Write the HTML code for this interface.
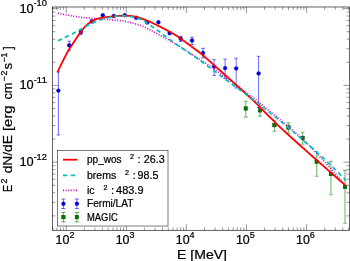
<!DOCTYPE html>
<html><head><meta charset="utf-8"><title>chart</title>
<style>html,body{margin:0;padding:0;background:#fff;}svg{display:block;will-change:transform;font-family:"Liberation Sans",sans-serif;fill:#000;}text{font-family:"Liberation Sans",sans-serif;stroke:#000;stroke-width:0.22px;}</style></head>
<body>
<svg width="350" height="261" viewBox="0 0 350 261">
<rect width="350" height="261" fill="#fff"/>
<path d="M245.80 101.20V117.10M243.90 101.20h3.80M243.90 117.10h3.80" stroke="#008000" stroke-width="1.10" fill="none" opacity="0.55"/>
<path d="M260.00 105.20V116.10M258.10 105.20h3.80M258.10 116.10h3.80" stroke="#008000" stroke-width="1.10" fill="none" opacity="0.55"/>
<path d="M274.40 120.20V131.30M272.50 120.20h3.80M272.50 131.30h3.80" stroke="#008000" stroke-width="1.10" fill="none" opacity="0.55"/>
<path d="M288.50 122.90V133.30M286.60 122.90h3.80M286.60 133.30h3.80" stroke="#008000" stroke-width="1.10" fill="none" opacity="0.55"/>
<path d="M302.70 132.30V144.30M300.80 132.30h3.80M300.80 144.30h3.80" stroke="#008000" stroke-width="1.10" fill="none" opacity="0.55"/>
<path d="M316.70 151.80V176.20M314.80 151.80h3.80M314.80 176.20h3.80" stroke="#008000" stroke-width="1.10" fill="none" opacity="0.55"/>
<path d="M330.90 161.30V194.70M329.00 161.30h3.80M329.00 194.70h3.80" stroke="#008000" stroke-width="1.10" fill="none" opacity="0.55"/>
<path d="M345.00 170.40V223.30M343.10 170.40h3.80M343.10 223.30h3.80" stroke="#008000" stroke-width="1.10" fill="none" opacity="0.55"/>
<path d="M58.40 71.90V135.00M56.65 71.90h3.50M56.65 135.00h3.50" stroke="#0000ff" stroke-width="0.65" fill="none" opacity="0.90"/>
<path d="M69.20 41.20V50.40M67.45 41.20h3.50M67.45 50.40h3.50" stroke="#0000ff" stroke-width="0.65" fill="none" opacity="0.90"/>
<path d="M80.90 29.40V34.60M79.15 29.40h3.50M79.15 34.60h3.50" stroke="#0000ff" stroke-width="0.65" fill="none" opacity="0.90"/>
<path d="M91.80 20.00V22.80M90.05 20.00h3.50M90.05 22.80h3.50" stroke="#0000ff" stroke-width="0.65" fill="none" opacity="0.90"/>
<path d="M169.60 31.60V34.60M167.85 31.60h3.50M167.85 34.60h3.50" stroke="#0000ff" stroke-width="0.65" fill="none" opacity="0.90"/>
<path d="M180.70 36.30V41.40M178.95 36.30h3.50M178.95 41.40h3.50" stroke="#0000ff" stroke-width="0.65" fill="none" opacity="0.90"/>
<path d="M192.00 37.20V44.50M190.25 37.20h3.50M190.25 44.50h3.50" stroke="#0000ff" stroke-width="0.65" fill="none" opacity="0.90"/>
<path d="M203.00 48.30V57.90M201.25 48.30h3.50M201.25 57.90h3.50" stroke="#0000ff" stroke-width="0.65" fill="none" opacity="0.90"/>
<path d="M214.10 59.70V75.40M212.35 59.70h3.50M212.35 75.40h3.50" stroke="#0000ff" stroke-width="0.65" fill="none" opacity="0.90"/>
<path d="M225.10 59.10V78.60M223.35 59.10h3.50M223.35 78.60h3.50" stroke="#0000ff" stroke-width="0.65" fill="none" opacity="0.90"/>
<path d="M236.20 58.20V88.00M234.45 58.20h3.50M234.45 88.00h3.50" stroke="#0000ff" stroke-width="0.65" fill="none" opacity="0.90"/>
<path d="M258.60 56.30V107.50M256.85 56.30h3.50M256.85 107.50h3.50" stroke="#0000ff" stroke-width="0.65" fill="none" opacity="0.90"/>
<rect x="244.00" y="106.70" width="3.6" height="3.6" fill="#007a00" stroke="#003800" stroke-width="0.4"/>
<rect x="258.20" y="108.50" width="3.6" height="3.6" fill="#007a00" stroke="#003800" stroke-width="0.4"/>
<rect x="272.60" y="123.30" width="3.6" height="3.6" fill="#007a00" stroke="#003800" stroke-width="0.4"/>
<rect x="286.70" y="125.70" width="3.6" height="3.6" fill="#007a00" stroke="#003800" stroke-width="0.4"/>
<rect x="300.90" y="136.10" width="3.6" height="3.6" fill="#007a00" stroke="#003800" stroke-width="0.4"/>
<rect x="314.90" y="159.90" width="3.6" height="3.6" fill="#007a00" stroke="#003800" stroke-width="0.4"/>
<rect x="329.10" y="172.20" width="3.6" height="3.6" fill="#007a00" stroke="#003800" stroke-width="0.4"/>
<rect x="343.20" y="185.20" width="3.6" height="3.6" fill="#007a00" stroke="#003800" stroke-width="0.4"/>
<circle cx="58.40" cy="90.60" r="1.95" fill="#0000f0" stroke="#000070" stroke-width="0.3"/>
<circle cx="69.20" cy="45.30" r="1.95" fill="#0000f0" stroke="#000070" stroke-width="0.3"/>
<circle cx="80.90" cy="32.00" r="1.95" fill="#0000f0" stroke="#000070" stroke-width="0.3"/>
<circle cx="91.80" cy="21.40" r="1.95" fill="#0000f0" stroke="#000070" stroke-width="0.3"/>
<circle cx="102.80" cy="15.20" r="1.95" fill="#0000f0" stroke="#000070" stroke-width="0.3"/>
<circle cx="113.80" cy="16.00" r="1.95" fill="#0000f0" stroke="#000070" stroke-width="0.3"/>
<circle cx="124.80" cy="15.20" r="1.95" fill="#0000f0" stroke="#000070" stroke-width="0.3"/>
<circle cx="136.20" cy="17.80" r="1.95" fill="#0000f0" stroke="#000070" stroke-width="0.3"/>
<circle cx="147.30" cy="22.60" r="1.95" fill="#0000f0" stroke="#000070" stroke-width="0.3"/>
<circle cx="158.40" cy="22.20" r="1.95" fill="#0000f0" stroke="#000070" stroke-width="0.3"/>
<circle cx="169.60" cy="33.10" r="1.95" fill="#0000f0" stroke="#000070" stroke-width="0.3"/>
<circle cx="180.70" cy="38.70" r="1.95" fill="#0000f0" stroke="#000070" stroke-width="0.3"/>
<circle cx="192.00" cy="40.50" r="1.95" fill="#0000f0" stroke="#000070" stroke-width="0.3"/>
<circle cx="203.00" cy="53.00" r="1.95" fill="#0000f0" stroke="#000070" stroke-width="0.3"/>
<circle cx="214.10" cy="66.60" r="1.95" fill="#0000f0" stroke="#000070" stroke-width="0.3"/>
<circle cx="225.10" cy="68.10" r="1.95" fill="#0000f0" stroke="#000070" stroke-width="0.3"/>
<circle cx="236.20" cy="68.40" r="1.95" fill="#0000f0" stroke="#000070" stroke-width="0.3"/>
<circle cx="258.60" cy="73.40" r="1.95" fill="#0000f0" stroke="#000070" stroke-width="0.3"/>
<g fill="none" stroke-linejoin="round">
<polyline points="58.00,13.20 58.66,13.33 59.31,13.47 59.96,13.60 60.60,13.73 61.25,13.86 61.89,13.99 62.55,14.13 63.21,14.26 63.88,14.39 64.57,14.53 65.27,14.66 66.00,14.80 66.75,14.94 67.53,15.08 68.34,15.23 69.16,15.38 69.99,15.53 70.83,15.68 71.67,15.82 72.51,15.97 73.33,16.11 74.14,16.24 74.94,16.38 75.70,16.50 76.43,16.62 77.11,16.73 77.77,16.84 78.41,16.94 79.04,17.05 79.67,17.14 80.31,17.24 80.97,17.33 81.66,17.43 82.38,17.52 83.16,17.61 84.00,17.70 84.90,17.79 85.85,17.88 86.85,17.97 87.88,18.05 88.94,18.14 90.02,18.22 91.13,18.30 92.23,18.38 93.34,18.46 94.44,18.54 95.53,18.62 96.60,18.70 97.66,18.78 98.71,18.85 99.77,18.93 100.83,19.00 101.89,19.07 102.95,19.14 104.01,19.21 105.07,19.28 106.13,19.36 107.19,19.43 108.24,19.51 109.30,19.60 110.37,19.69 111.47,19.78 112.58,19.87 113.71,19.97 114.83,20.07 115.94,20.17 117.04,20.27 118.10,20.37 119.13,20.48 120.11,20.58 121.04,20.69 121.90,20.80 122.68,20.90 123.37,21.00 123.99,21.10 124.56,21.19 125.10,21.29 125.61,21.39 126.11,21.49 126.63,21.61 127.17,21.73 127.75,21.87 128.39,22.03 129.10,22.20 129.89,22.39 130.73,22.60 131.63,22.82 132.56,23.05 133.51,23.30 134.48,23.55 135.46,23.81 136.42,24.08 137.37,24.36 138.29,24.64 139.17,24.92 140.00,25.20 140.80,25.49 141.58,25.80 142.35,26.13 143.11,26.46 143.85,26.80 144.56,27.14 145.26,27.48 145.93,27.81 146.57,28.14 147.18,28.44 147.76,28.73 148.30,29.00 148.77,29.23 149.15,29.42 149.46,29.57 149.72,29.71 149.95,29.83 150.18,29.96 150.42,30.09 150.69,30.25 151.03,30.44 151.44,30.67 151.96,30.95 152.60,31.30 153.37,31.72 154.25,32.19 155.23,32.72 156.29,33.29 157.40,33.89 158.55,34.52 159.72,35.16 160.90,35.80 162.07,36.43 163.20,37.05 164.28,37.64 165.30,38.20 166.27,38.73 167.23,39.26 168.18,39.78 169.11,40.30 170.03,40.80 170.94,41.31 171.83,41.80 172.70,42.29 173.55,42.78 174.39,43.26 175.21,43.73 176.00,44.20 176.75,44.65 177.44,45.08 178.10,45.49 178.71,45.88 179.32,46.27 179.91,46.66 180.52,47.06 181.14,47.47 181.80,47.91 182.50,48.37 183.27,48.86 184.10,49.40 185.00,49.98 185.96,50.58 186.96,51.22 188.01,51.88 189.08,52.56 190.19,53.26 191.31,53.97 192.45,54.69 193.59,55.42 194.74,56.15 195.87,56.88 197.00,57.60 198.12,58.32 199.26,59.05 200.40,59.79 201.55,60.53 202.71,61.27 203.88,62.03 205.04,62.78 206.21,63.55 207.39,64.33 208.56,65.11 209.73,65.90 210.90,66.70 212.07,67.51 213.23,68.33 214.40,69.16 215.57,70.00 216.74,70.84 217.91,71.69 219.08,72.55 220.26,73.41 221.44,74.28 222.62,75.15 223.81,76.03 225.00,76.90 226.23,77.80 227.51,78.74 228.82,79.71 230.16,80.70 231.50,81.69 232.82,82.67 234.12,83.63 235.37,84.56 236.56,85.44 237.68,86.27 238.69,87.03 239.60,87.70 240.37,88.27 240.99,88.74 241.50,89.12 241.93,89.44 242.29,89.71 242.61,89.96 242.93,90.20 243.26,90.46 243.64,90.75 244.09,91.09 244.63,91.50 245.30,92.00 246.09,92.59 246.98,93.25 247.95,93.97 248.98,94.74 250.06,95.53 251.16,96.35 252.26,97.18 253.36,98.00 254.43,98.80 255.46,99.58 256.42,100.32 257.30,101.00 258.09,101.63 258.80,102.20 259.46,102.74 260.07,103.25 260.65,103.74 261.22,104.23 261.79,104.73 262.39,105.24 263.02,105.78 263.71,106.37 264.46,107.00 265.30,107.70 266.22,108.46 267.22,109.28 268.27,110.13 269.36,111.03 270.50,111.95 271.66,112.90 272.83,113.86 274.01,114.83 275.19,115.79 276.36,116.75 277.50,117.69 278.60,118.60 279.68,119.50 280.76,120.40 281.84,121.30 282.91,122.20 283.98,123.09 285.05,123.99 286.11,124.88 287.16,125.77 288.21,126.66 289.25,127.54 290.28,128.42 291.30,129.30 292.32,130.18 293.36,131.08 294.41,131.99 295.45,132.90 296.48,133.80 297.51,134.70 298.51,135.58 299.49,136.45 300.43,137.29 301.33,138.10 302.19,138.87 303.00,139.60 303.74,140.27 304.41,140.88 305.01,141.44 305.57,141.96 306.10,142.45 306.61,142.94 307.12,143.42 307.63,143.92 308.16,144.44 308.72,145.01 309.33,145.62 310.00,146.30 310.72,147.04 311.46,147.81 312.24,148.62 313.03,149.46 313.84,150.32 314.68,151.21 315.52,152.11 316.38,153.03 317.25,153.97 318.13,154.91 319.01,155.85 319.90,156.80 320.80,157.75 321.71,158.72 322.64,159.71 323.59,160.70 324.54,161.71 325.51,162.73 326.47,163.76 327.44,164.80 328.41,165.84 329.38,166.89 330.35,167.94 331.30,169.00 332.28,170.10 333.31,171.27 334.37,172.48 335.45,173.73 336.53,174.98 337.59,176.21 338.62,177.41 339.60,178.56 340.52,179.64 341.35,180.61 342.08,181.47 342.70,182.20 343.19,182.78 343.57,183.22 343.84,183.56 344.04,183.80 344.17,183.97 344.24,184.07 344.29,184.15 344.32,184.20 344.35,184.25 344.39,184.32 344.47,184.43 344.60,184.60" stroke="#bf00bf" stroke-width="1.7" stroke-dasharray="0.95 1.65"/>
<polyline points="57.70,71.80 57.73,71.73 57.74,71.71 57.73,71.71 57.72,71.73 57.71,71.75 57.71,71.75 57.72,71.73 57.74,71.66 57.80,71.54 57.89,71.35 58.02,71.07 58.20,70.70 58.43,70.21 58.72,69.61 59.06,68.91 59.43,68.14 59.83,67.32 60.24,66.46 60.67,65.58 61.09,64.70 61.51,63.84 61.90,63.03 62.27,62.28 62.60,61.60 62.90,60.99 63.18,60.42 63.44,59.88 63.69,59.37 63.93,58.88 64.16,58.41 64.39,57.94 64.62,57.49 64.85,57.03 65.09,56.56 65.34,56.09 65.60,55.60 65.86,55.11 66.11,54.64 66.36,54.18 66.60,53.73 66.85,53.27 67.11,52.81 67.37,52.34 67.65,51.85 67.95,51.34 68.27,50.80 68.62,50.22 69.00,49.60 69.42,48.93 69.88,48.19 70.38,47.41 70.90,46.60 71.45,45.76 72.00,44.91 72.56,44.06 73.11,43.22 73.65,42.40 74.16,41.62 74.65,40.88 75.10,40.20 75.52,39.56 75.93,38.95 76.32,38.36 76.70,37.79 77.07,37.25 77.42,36.73 77.77,36.22 78.10,35.74 78.41,35.28 78.72,34.83 79.02,34.41 79.30,34.00 79.56,33.62 79.80,33.28 80.01,32.98 80.21,32.70 80.40,32.44 80.57,32.19 80.75,31.95 80.93,31.71 81.12,31.46 81.33,31.20 81.55,30.91 81.80,30.60 82.07,30.26 82.35,29.91 82.63,29.54 82.93,29.16 83.24,28.78 83.55,28.39 83.87,28.00 84.20,27.60 84.54,27.22 84.89,26.83 85.24,26.46 85.60,26.10 85.97,25.75 86.34,25.39 86.72,25.04 87.11,24.70 87.50,24.35 87.91,24.01 88.32,23.68 88.74,23.35 89.16,23.03 89.60,22.71 90.05,22.40 90.50,22.10 90.97,21.80 91.44,21.51 91.93,21.22 92.43,20.94 92.94,20.66 93.46,20.39 93.98,20.13 94.50,19.87 95.03,19.63 95.55,19.41 96.08,19.20 96.60,19.00 97.12,18.82 97.65,18.66 98.18,18.52 98.71,18.39 99.25,18.27 99.79,18.16 100.33,18.05 100.86,17.96 101.40,17.87 101.94,17.78 102.47,17.69 103.00,17.60 103.53,17.51 104.05,17.43 104.57,17.36 105.09,17.29 105.61,17.22 106.13,17.16 106.65,17.10 107.17,17.04 107.70,16.98 108.23,16.92 108.76,16.86 109.30,16.80 109.84,16.74 110.39,16.67 110.94,16.61 111.49,16.55 112.05,16.49 112.61,16.43 113.17,16.37 113.73,16.31 114.29,16.25 114.86,16.20 115.43,16.15 116.00,16.10 116.57,16.05 117.15,16.01 117.73,15.96 118.31,15.92 118.90,15.88 119.48,15.84 120.07,15.81 120.66,15.78 121.24,15.75 121.83,15.73 122.42,15.71 123.00,15.70 123.59,15.69 124.18,15.69 124.77,15.69 125.36,15.69 125.96,15.70 126.55,15.71 127.14,15.73 127.73,15.75 128.31,15.78 128.88,15.81 129.44,15.85 130.00,15.90 130.55,15.95 131.08,16.01 131.62,16.07 132.14,16.14 132.66,16.22 133.18,16.30 133.69,16.39 134.19,16.48 134.70,16.57 135.20,16.68 135.70,16.79 136.20,16.90 136.70,17.02 137.18,17.15 137.67,17.28 138.14,17.42 138.62,17.56 139.09,17.71 139.57,17.87 140.04,18.03 140.52,18.19 141.01,18.36 141.50,18.53 142.00,18.70 142.49,18.87 142.96,19.03 143.42,19.19 143.87,19.34 144.33,19.51 144.80,19.67 145.29,19.86 145.80,20.06 146.35,20.27 146.95,20.52 147.59,20.79 148.30,21.10 149.08,21.45 149.95,21.84 150.89,22.28 151.87,22.74 152.90,23.22 153.94,23.71 154.98,24.21 156.01,24.71 157.02,25.19 157.98,25.66 158.88,26.10 159.70,26.50 160.45,26.87 161.13,27.21 161.77,27.53 162.37,27.84 162.95,28.13 163.50,28.42 164.05,28.71 164.59,29.00 165.15,29.30 165.73,29.61 166.35,29.94 167.00,30.30 167.69,30.68 168.41,31.07 169.15,31.47 169.91,31.88 170.68,32.30 171.45,32.73 172.23,33.17 173.00,33.61 173.77,34.05 174.53,34.50 175.28,34.95 176.00,35.40 176.70,35.85 177.39,36.31 178.07,36.76 178.74,37.23 179.40,37.69 180.06,38.16 180.71,38.64 181.37,39.12 182.04,39.60 182.71,40.10 183.40,40.60 184.10,41.10 184.81,41.61 185.52,42.12 186.24,42.63 186.96,43.15 187.68,43.68 188.41,44.21 189.15,44.74 189.90,45.29 190.66,45.85 191.43,46.42 192.21,47.00 193.00,47.60 193.80,48.20 194.61,48.81 195.42,49.42 196.24,50.03 197.07,50.66 197.91,51.30 198.77,51.96 199.64,52.63 200.52,53.33 201.43,54.06 202.35,54.81 203.30,55.60 204.30,56.45 205.36,57.36 206.46,58.33 207.60,59.34 208.76,60.38 209.92,61.42 211.06,62.45 212.17,63.46 213.24,64.42 214.24,65.33 215.17,66.16 216.00,66.90 216.73,67.55 217.36,68.11 217.92,68.60 218.42,69.04 218.87,69.44 219.29,69.81 219.70,70.16 220.10,70.51 220.52,70.88 220.96,71.28 221.45,71.71 222.00,72.20 222.59,72.73 223.20,73.27 223.82,73.83 224.46,74.41 225.11,74.99 225.78,75.59 226.45,76.20 227.14,76.83 227.84,77.46 228.55,78.10 229.27,78.74 230.00,79.40 230.74,80.07 231.51,80.75 232.29,81.45 233.09,82.16 233.89,82.88 234.71,83.61 235.53,84.34 236.35,85.07 237.17,85.81 237.99,86.54 238.80,87.28 239.60,88.00 240.40,88.73 241.22,89.47 242.05,90.23 242.88,90.99 243.71,91.74 244.53,92.50 245.35,93.25 246.14,93.98 246.92,94.70 247.68,95.39 248.41,96.06 249.10,96.70 249.75,97.29 250.35,97.84 250.91,98.34 251.44,98.82 251.95,99.28 252.45,99.74 252.95,100.20 253.46,100.67 253.99,101.16 254.55,101.69 255.15,102.27 255.80,102.90 256.50,103.60 257.25,104.35 258.04,105.15 258.86,105.99 259.70,106.85 260.55,107.72 261.40,108.60 262.24,109.47 263.06,110.31 263.85,111.12 264.60,111.89 265.30,112.60 265.96,113.26 266.58,113.88 267.17,114.47 267.74,115.03 268.30,115.57 268.83,116.09 269.36,116.61 269.88,117.11 270.40,117.62 270.92,118.14 271.45,118.66 272.00,119.20 272.53,119.73 273.04,120.24 273.51,120.73 273.98,121.21 274.45,121.69 274.93,122.18 275.42,122.69 275.95,123.22 276.52,123.79 277.15,124.40 277.84,125.07 278.60,125.80 279.45,126.60 280.38,127.47 281.38,128.40 282.43,129.38 283.53,130.39 284.66,131.43 285.80,132.48 286.94,133.53 288.08,134.57 289.19,135.58 290.27,136.56 291.30,137.50 292.29,138.39 293.25,139.26 294.19,140.11 295.12,140.94 296.04,141.76 296.95,142.57 297.86,143.39 298.78,144.20 299.71,145.03 300.65,145.87 301.61,146.72 302.60,147.60 303.62,148.51 304.67,149.45 305.75,150.41 306.84,151.38 307.94,152.37 309.05,153.35 310.15,154.33 311.24,155.30 312.30,156.24 313.34,157.16 314.34,158.05 315.30,158.90 316.20,159.70 317.06,160.45 317.87,161.16 318.65,161.84 319.41,162.51 320.16,163.16 320.90,163.82 321.66,164.48 322.44,165.16 323.25,165.87 324.10,166.61 325.00,167.40 325.96,168.25 326.99,169.15 328.06,170.09 329.17,171.07 330.30,172.06 331.43,173.06 332.56,174.05 333.66,175.02 334.73,175.97 335.76,176.87 336.72,177.72 337.60,178.50 338.41,179.22 339.16,179.88 339.85,180.50 340.50,181.09 341.12,181.64 341.71,182.17 342.29,182.68 342.85,183.19 343.42,183.70 343.99,184.22 344.58,184.75 345.20,185.30" stroke="#ff0000" stroke-width="1.8"/>
<polyline points="58.00,40.80 58.50,40.56 58.99,40.32 59.49,40.08 59.98,39.84 60.47,39.61 60.97,39.37 61.46,39.13 61.96,38.89 62.46,38.65 62.97,38.40 63.48,38.15 64.00,37.90 64.53,37.64 65.07,37.38 65.61,37.11 66.17,36.84 66.72,36.57 67.28,36.29 67.84,36.02 68.39,35.75 68.93,35.48 69.47,35.21 69.99,34.95 70.50,34.70 71.00,34.45 71.48,34.21 71.97,33.96 72.44,33.73 72.91,33.49 73.37,33.26 73.82,33.03 74.27,32.80 74.71,32.57 75.15,32.34 75.58,32.12 76.00,31.90 76.41,31.68 76.81,31.47 77.19,31.27 77.56,31.07 77.93,30.87 78.29,30.67 78.66,30.47 79.03,30.27 79.40,30.06 79.79,29.85 80.18,29.63 80.60,29.40 81.03,29.16 81.46,28.92 81.91,28.67 82.36,28.42 82.81,28.17 83.27,27.91 83.75,27.64 84.22,27.38 84.71,27.11 85.20,26.84 85.70,26.57 86.20,26.30 86.72,26.02 87.26,25.74 87.81,25.44 88.38,25.14 88.95,24.84 89.53,24.54 90.10,24.25 90.67,23.96 91.23,23.67 91.77,23.40 92.30,23.14 92.80,22.90 93.28,22.67 93.73,22.46 94.16,22.26 94.57,22.07 94.98,21.89 95.38,21.72 95.78,21.55 96.19,21.38 96.61,21.21 97.05,21.05 97.51,20.88 98.00,20.70 98.52,20.52 99.07,20.33 99.65,20.15 100.24,19.96 100.85,19.78 101.46,19.59 102.07,19.41 102.67,19.24 103.26,19.07 103.83,18.90 104.38,18.75 104.90,18.60 105.38,18.46 105.84,18.33 106.28,18.21 106.69,18.10 107.10,17.99 107.49,17.89 107.89,17.79 108.29,17.69 108.69,17.59 109.11,17.50 109.54,17.40 110.00,17.30 110.48,17.20 110.97,17.10 111.48,16.99 112.00,16.89 112.53,16.79 113.06,16.69 113.59,16.60 114.12,16.51 114.65,16.42 115.18,16.34 115.69,16.27 116.20,16.20 116.70,16.14 117.19,16.08 117.67,16.03 118.16,15.99 118.63,15.94 119.11,15.91 119.59,15.87 120.07,15.85 120.55,15.83 121.03,15.81 121.51,15.80 122.00,15.80 122.49,15.80 122.96,15.81 123.43,15.82 123.90,15.83 124.37,15.85 124.85,15.88 125.33,15.91 125.83,15.95 126.34,16.00 126.87,16.05 127.42,16.12 128.00,16.20 128.61,16.29 129.27,16.39 129.95,16.50 130.66,16.62 131.38,16.75 132.11,16.88 132.84,17.02 133.56,17.17 134.27,17.32 134.95,17.48 135.59,17.64 136.20,17.80 136.77,17.96 137.31,18.13 137.83,18.31 138.33,18.49 138.81,18.67 139.28,18.86 139.74,19.05 140.19,19.25 140.64,19.45 141.09,19.66 141.54,19.88 142.00,20.10 142.46,20.33 142.91,20.56 143.35,20.80 143.79,21.04 144.22,21.29 144.66,21.54 145.09,21.80 145.52,22.07 145.96,22.34 146.40,22.62 146.85,22.91 147.30,23.20 147.76,23.50 148.22,23.81 148.69,24.13 149.16,24.46 149.63,24.79 150.11,25.13 150.58,25.47 151.06,25.82 151.54,26.16 152.03,26.51 152.51,26.86 153.00,27.20 153.49,27.54 153.98,27.88 154.48,28.23 154.98,28.57 155.48,28.92 155.98,29.26 156.48,29.61 156.99,29.96 157.49,30.32 158.00,30.67 158.50,31.04 159.00,31.40 159.50,31.77 159.99,32.14 160.49,32.51 160.98,32.89 161.47,33.27 161.96,33.66 162.46,34.04 162.96,34.43 163.46,34.82 163.97,35.21 164.48,35.60 165.00,36.00 165.54,36.40 166.09,36.82 166.66,37.25 167.24,37.68 167.82,38.11 168.40,38.54 168.98,38.97 169.54,39.39 170.09,39.79 170.62,40.18 171.13,40.55 171.60,40.90 172.03,41.21 172.42,41.49 172.77,41.74 173.09,41.97 173.40,42.19 173.71,42.41 174.02,42.62 174.34,42.85 174.69,43.09 175.08,43.36 175.51,43.66 176.00,44.00 176.53,44.37 177.08,44.75 177.65,45.15 178.25,45.57 178.87,46.00 179.52,46.45 180.20,46.92 180.91,47.41 181.65,47.92 182.43,48.46 183.25,49.02 184.10,49.60 185.01,50.22 185.98,50.87 187.01,51.55 188.08,52.27 189.18,53.00 190.31,53.75 191.45,54.51 192.59,55.28 193.73,56.05 194.85,56.81 195.94,57.56 197.00,58.30 198.02,59.02 199.01,59.72 199.97,60.42 200.92,61.11 201.86,61.80 202.81,62.50 203.76,63.21 204.74,63.93 205.74,64.68 206.78,65.45 207.86,66.26 209.00,67.10 210.22,68.00 211.52,68.97 212.89,69.99 214.31,71.04 215.75,72.12 217.21,73.20 218.65,74.27 220.06,75.33 221.42,76.34 222.71,77.30 223.91,78.19 225.00,79.00 225.98,79.73 226.89,80.40 227.71,81.01 228.48,81.57 229.20,82.10 229.88,82.60 230.52,83.08 231.15,83.54 231.77,83.99 232.40,84.45 233.04,84.92 233.70,85.40 234.37,85.89 235.02,86.36 235.65,86.82 236.27,87.27 236.89,87.71 237.50,88.15 238.11,88.59 238.73,89.03 239.35,89.48 239.98,89.94 240.63,90.41 241.30,90.90 241.97,91.39 242.61,91.85 243.24,92.31 243.87,92.77 244.51,93.24 245.17,93.72 245.85,94.22 246.57,94.75 247.34,95.31 248.16,95.92 249.04,96.58 250.00,97.30 251.05,98.09 252.19,98.94 253.41,99.86 254.69,100.81 256.01,101.81 257.36,102.83 258.73,103.87 260.10,104.91 261.46,105.94 262.79,106.96 264.07,107.95 265.30,108.90 266.48,109.82 267.64,110.74 268.78,111.65 269.90,112.54 271.01,113.44 272.11,114.33 273.20,115.21 274.29,116.09 275.36,116.97 276.44,117.84 277.52,118.72 278.60,119.60 279.68,120.48 280.76,121.36 281.84,122.23 282.91,123.10 283.98,123.97 285.05,124.84 286.11,125.71 287.16,126.57 288.21,127.44 289.25,128.29 290.28,129.15 291.30,130.00 292.31,130.84 293.30,131.68 294.28,132.50 295.25,133.33 296.22,134.14 297.18,134.96 298.13,135.78 299.09,136.61 300.06,137.44 301.03,138.28 302.01,139.13 303.00,140.00 303.99,140.87 304.97,141.73 305.95,142.59 306.92,143.46 307.90,144.33 308.88,145.21 309.88,146.10 310.90,147.02 311.95,147.97 313.03,148.94 314.14,149.95 315.30,151.00 316.51,152.10 317.79,153.26 319.12,154.46 320.49,155.70 321.88,156.96 323.28,158.24 324.69,159.53 326.08,160.81 327.45,162.08 328.79,163.32 330.07,164.53 331.30,165.70 332.51,166.86 333.73,168.06 334.95,169.28 336.17,170.50 337.36,171.71 338.52,172.88 339.62,174.01 340.66,175.08 341.62,176.07 342.49,176.96 343.26,177.74 343.90,178.40 344.40,178.91 344.77,179.29 345.02,179.54 345.17,179.70 345.24,179.78 345.26,179.81 345.23,179.79 345.19,179.75 345.14,179.71 345.11,179.70 345.13,179.72 345.20,179.80" stroke="#00bfbf" stroke-width="1.75" stroke-dasharray="4.3 3.4"/>
</g>
<path d="M52.87 230.30v-2.90M52.87 7.00v2.90M56.89 230.30v-2.90M56.89 7.00v2.90M60.38 230.30v-2.90M60.38 7.00v2.90M63.45 230.30v-2.90M63.45 7.00v2.90M66.20 230.30v-6.00M66.20 7.00v6.00M84.29 230.30v-2.90M84.29 7.00v2.90M94.87 230.30v-2.90M94.87 7.00v2.90M102.38 230.30v-2.90M102.38 7.00v2.90M108.21 230.30v-2.90M108.21 7.00v2.90M112.97 230.30v-2.90M112.97 7.00v2.90M116.99 230.30v-2.90M116.99 7.00v2.90M120.48 230.30v-2.90M120.48 7.00v2.90M123.55 230.30v-2.90M123.55 7.00v2.90M126.30 230.30v-6.00M126.30 7.00v6.00M144.39 230.30v-2.90M144.39 7.00v2.90M154.97 230.30v-2.90M154.97 7.00v2.90M162.48 230.30v-2.90M162.48 7.00v2.90M168.31 230.30v-2.90M168.31 7.00v2.90M173.07 230.30v-2.90M173.07 7.00v2.90M177.09 230.30v-2.90M177.09 7.00v2.90M180.58 230.30v-2.90M180.58 7.00v2.90M183.65 230.30v-2.90M183.65 7.00v2.90M186.40 230.30v-6.00M186.40 7.00v6.00M204.49 230.30v-2.90M204.49 7.00v2.90M215.07 230.30v-2.90M215.07 7.00v2.90M222.58 230.30v-2.90M222.58 7.00v2.90M228.41 230.30v-2.90M228.41 7.00v2.90M233.17 230.30v-2.90M233.17 7.00v2.90M237.19 230.30v-2.90M237.19 7.00v2.90M240.68 230.30v-2.90M240.68 7.00v2.90M243.75 230.30v-2.90M243.75 7.00v2.90M246.50 230.30v-6.00M246.50 7.00v6.00M264.59 230.30v-2.90M264.59 7.00v2.90M275.17 230.30v-2.90M275.17 7.00v2.90M282.68 230.30v-2.90M282.68 7.00v2.90M288.51 230.30v-2.90M288.51 7.00v2.90M293.27 230.30v-2.90M293.27 7.00v2.90M297.29 230.30v-2.90M297.29 7.00v2.90M300.78 230.30v-2.90M300.78 7.00v2.90M303.85 230.30v-2.90M303.85 7.00v2.90M306.60 230.30v-6.00M306.60 7.00v6.00M324.69 230.30v-2.90M324.69 7.00v2.90M335.27 230.30v-2.90M335.27 7.00v2.90M342.78 230.30v-2.90M342.78 7.00v2.90M348.61 230.30v-2.90M348.61 7.00v2.90M52.50 215.88h2.90M349.35 215.88h-2.90M52.50 202.36h2.90M349.35 202.36h-2.90M52.50 192.76h2.90M349.35 192.76h-2.90M52.50 185.32h2.90M349.35 185.32h-2.90M52.50 179.24h2.90M349.35 179.24h-2.90M52.50 174.10h2.90M349.35 174.10h-2.90M52.50 169.64h2.90M349.35 169.64h-2.90M52.50 165.71h2.90M349.35 165.71h-2.90M52.50 162.20h6.00M349.35 162.20h-6.00M52.50 139.08h2.90M349.35 139.08h-2.90M52.50 125.56h2.90M349.35 125.56h-2.90M52.50 115.96h2.90M349.35 115.96h-2.90M52.50 108.52h2.90M349.35 108.52h-2.90M52.50 102.44h2.90M349.35 102.44h-2.90M52.50 97.30h2.90M349.35 97.30h-2.90M52.50 92.84h2.90M349.35 92.84h-2.90M52.50 88.91h2.90M349.35 88.91h-2.90M52.50 85.40h6.00M349.35 85.40h-6.00M52.50 62.28h2.90M349.35 62.28h-2.90M52.50 48.76h2.90M349.35 48.76h-2.90M52.50 39.16h2.90M349.35 39.16h-2.90M52.50 31.72h2.90M349.35 31.72h-2.90M52.50 25.64h2.90M349.35 25.64h-2.90M52.50 20.50h2.90M349.35 20.50h-2.90M52.50 16.04h2.90M349.35 16.04h-2.90M52.50 12.11h2.90M349.35 12.11h-2.90M52.50 8.60h6.00M349.35 8.60h-6.00" stroke="#333" stroke-width="0.5" fill="none"/>
<rect x="52.50" y="7.00" width="296.85" height="223.30" fill="none" stroke="#111" stroke-width="0.65"/>
<rect x="57.50" y="150.60" width="110.50" height="75.40" fill="#fff" stroke="#222" stroke-width="0.6"/>
<path d="M63 159.7H77.4" stroke="#ff0000" stroke-width="1.8"/>
<path d="M63 175.3H77.4" stroke="#00bfbf" stroke-width="1.75" stroke-dasharray="4.3 3.4"/>
<path d="M63 190.3H77.4" stroke="#bf00bf" stroke-width="1.7" stroke-dasharray="0.95 1.65"/>
<path d="M63.40 199.00V208.50M61.40 199.00h4.00M61.40 208.50h4.00" stroke="#0000ff" stroke-width="0.65" fill="none" opacity="0.90"/>
<circle cx="63.40" cy="203.7" r="1.95" fill="#0000f0" stroke="#000070" stroke-width="0.3"/>
<path d="M63.40 212.50V221.90M61.30 212.50h4.20M61.30 221.90h4.20" stroke="#008000" stroke-width="1.00" fill="none" opacity="0.60"/>
<rect x="61.60" y="215.30" width="3.6" height="3.6" fill="#007a00" stroke="#003800" stroke-width="0.4"/>
<path d="M76.90 199.00V208.50M74.90 199.00h4.00M74.90 208.50h4.00" stroke="#0000ff" stroke-width="0.65" fill="none" opacity="0.90"/>
<circle cx="76.90" cy="203.7" r="1.95" fill="#0000f0" stroke="#000070" stroke-width="0.3"/>
<path d="M76.90 212.50V221.90M74.80 212.50h4.20M74.80 221.90h4.20" stroke="#008000" stroke-width="1.00" fill="none" opacity="0.60"/>
<rect x="75.10" y="215.30" width="3.6" height="3.6" fill="#007a00" stroke="#003800" stroke-width="0.4"/>
<text x="87.00" y="163.00" font-size="10.20" text-anchor="start" textLength="34.60" lengthAdjust="spacingAndGlyphs">pp_wos</text>
<text x="130.10" y="158.80" font-size="7.20" text-anchor="start">2</text>
<text x="137.60" y="163.00" font-size="10.20" text-anchor="start" textLength="3.20" lengthAdjust="spacingAndGlyphs">:</text>
<text x="143.80" y="163.00" font-size="10.20" text-anchor="start" textLength="20.90" lengthAdjust="spacingAndGlyphs">26.3</text>
<text x="87.00" y="178.60" font-size="10.20" text-anchor="start" textLength="29.20" lengthAdjust="spacingAndGlyphs">brems</text>
<text x="125.00" y="174.60" font-size="7.20" text-anchor="start">2</text>
<text x="132.40" y="178.60" font-size="10.20" text-anchor="start" textLength="3.20" lengthAdjust="spacingAndGlyphs">:</text>
<text x="137.50" y="178.60" font-size="10.20" text-anchor="start" textLength="20.90" lengthAdjust="spacingAndGlyphs">98.5</text>
<text x="87.00" y="193.90" font-size="10.20" text-anchor="start" textLength="7.60" lengthAdjust="spacingAndGlyphs">ic</text>
<text x="103.60" y="189.90" font-size="7.20" text-anchor="start">2</text>
<text x="110.90" y="193.90" font-size="10.20" text-anchor="start" textLength="3.20" lengthAdjust="spacingAndGlyphs">:</text>
<text x="116.10" y="193.90" font-size="10.20" text-anchor="start" textLength="27.40" lengthAdjust="spacingAndGlyphs">483.9</text>
<text x="87.00" y="207.30" font-size="10.20" text-anchor="start" textLength="46.40" lengthAdjust="spacingAndGlyphs">Fermi/LAT</text>
<text x="87.00" y="220.70" font-size="10.20" text-anchor="start" textLength="30.80" lengthAdjust="spacingAndGlyphs">MAGIC</text>
<text x="55.60" y="243.80" font-size="11.90" text-anchor="start" textLength="13.80" lengthAdjust="spacingAndGlyphs">10</text>
<text x="69.40" y="238.30" font-size="8.60" text-anchor="start" textLength="5.00" lengthAdjust="spacingAndGlyphs">2</text>
<text x="115.70" y="243.80" font-size="11.90" text-anchor="start" textLength="13.80" lengthAdjust="spacingAndGlyphs">10</text>
<text x="129.50" y="238.30" font-size="8.60" text-anchor="start" textLength="5.00" lengthAdjust="spacingAndGlyphs">3</text>
<text x="175.80" y="243.80" font-size="11.90" text-anchor="start" textLength="13.80" lengthAdjust="spacingAndGlyphs">10</text>
<text x="189.60" y="238.30" font-size="8.60" text-anchor="start" textLength="5.00" lengthAdjust="spacingAndGlyphs">4</text>
<text x="235.90" y="243.80" font-size="11.90" text-anchor="start" textLength="13.80" lengthAdjust="spacingAndGlyphs">10</text>
<text x="249.70" y="238.30" font-size="8.60" text-anchor="start" textLength="5.00" lengthAdjust="spacingAndGlyphs">5</text>
<text x="296.00" y="243.80" font-size="11.90" text-anchor="start" textLength="13.80" lengthAdjust="spacingAndGlyphs">10</text>
<text x="309.80" y="238.30" font-size="8.60" text-anchor="start" textLength="5.00" lengthAdjust="spacingAndGlyphs">6</text>
<text x="19.40" y="12.50" font-size="11.90" text-anchor="start" textLength="14.20" lengthAdjust="spacingAndGlyphs">10</text>
<text x="33.80" y="6.30" font-size="8.60" text-anchor="start">-</text>
<text x="36.60" y="6.30" font-size="8.60" text-anchor="start" textLength="10.40" lengthAdjust="spacingAndGlyphs">10</text>
<text x="19.40" y="89.30" font-size="11.90" text-anchor="start" textLength="14.20" lengthAdjust="spacingAndGlyphs">10</text>
<text x="33.80" y="83.10" font-size="8.60" text-anchor="start">-</text>
<text x="36.60" y="83.10" font-size="8.60" text-anchor="start" textLength="10.40" lengthAdjust="spacingAndGlyphs">11</text>
<text x="19.40" y="166.10" font-size="11.90" text-anchor="start" textLength="14.20" lengthAdjust="spacingAndGlyphs">10</text>
<text x="33.80" y="159.90" font-size="8.60" text-anchor="start">-</text>
<text x="36.60" y="159.90" font-size="8.60" text-anchor="start" textLength="10.40" lengthAdjust="spacingAndGlyphs">12</text>
<text x="177.00" y="258.90" font-size="11.90" text-anchor="start" textLength="50.00" lengthAdjust="spacingAndGlyphs">E [MeV]</text>
<g transform="translate(12.2 0) rotate(-90)">
<text x="-191.90" y="0.00" font-size="12.30" textLength="7.10" lengthAdjust="spacingAndGlyphs">E</text>
<text x="-183.60" y="-5.70" font-size="8.80">2</text>
<text x="-173.30" y="0.00" font-size="12.30" textLength="38.20" lengthAdjust="spacingAndGlyphs">dN/dE</text>
<text x="-131.00" y="0.00" font-size="12.30" textLength="25.60" lengthAdjust="spacingAndGlyphs">[erg</text>
<text x="-99.50" y="0.00" font-size="12.30" textLength="17.00" lengthAdjust="spacingAndGlyphs">cm</text>
<text x="-81.60" y="-5.70" font-size="8.80">−</text>
<text x="-75.60" y="-5.70" font-size="8.80">2</text>
<text x="-69.50" y="0.00" font-size="12.30" textLength="6.60" lengthAdjust="spacingAndGlyphs">s</text>
<text x="-62.60" y="-5.70" font-size="8.80">−</text>
<text x="-57.40" y="-5.70" font-size="8.80">1</text>
<text x="-49.70" y="0.00" font-size="12.30">]</text>
</g>
</svg>
</body></html>
